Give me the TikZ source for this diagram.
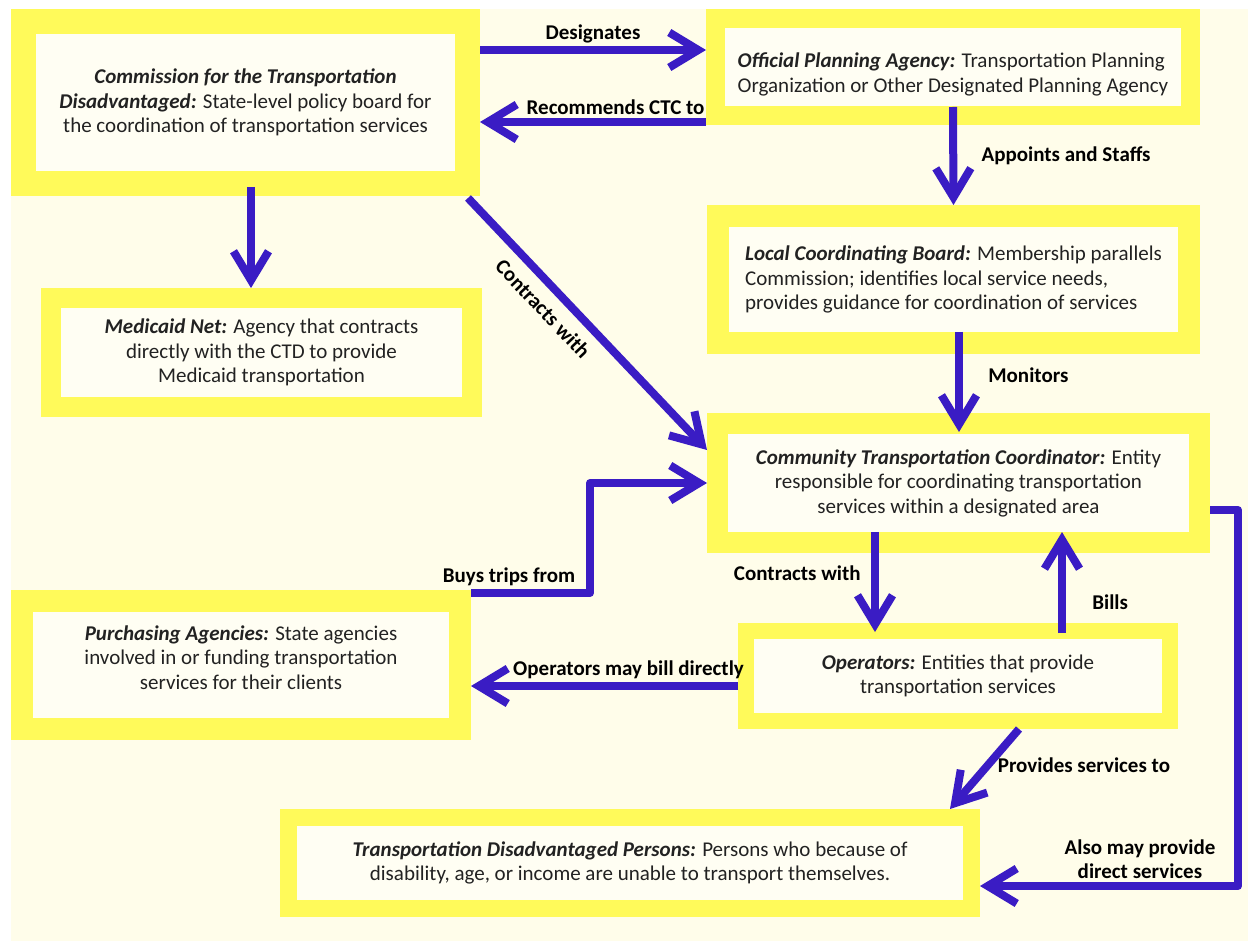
\documentclass[tikz,border=0pt]{standalone}
\usepackage{fontspec}
\setmainfont{Carlito}
\usetikzlibrary{arrows.meta}

\definecolor{frameyellow}{RGB}{255,250,90}
\definecolor{boxcream}{RGB}{255,254,243}
\definecolor{pagecream}{RGB}{255,253,234}
\definecolor{arrowblue}{RGB}{58,28,196}
\definecolor{bodygray}{RGB}{34,34,34}

\newcommand\btitle[1]{\textbf{\textit{#1}}}
\newcommand\bodysize{\fontsize{21pt}{24.5pt}\selectfont}

\tikzset{
  box/.style={draw=frameyellow, fill=boxcream, line width=#1, align=center,
    inner sep=0pt, text=bodygray, font=\bodysize},
  lbl/.style={font=\bodysize\bfseries, text=black},
  arr/.style={draw=arrowblue, line width=8pt, line join=round,
    -{Straight Barb[length=29pt,width=35pt]}},
}

\begin{document}
\begin{tikzpicture}[x=1pt,y=-1pt]
\useasboundingbox (0,0) rectangle (1248,941);
\fill[white] (0,0) rectangle (1248,941);
\fill[pagecream] (11,9) rectangle (1248,941);

% boxes
\node[box=25pt, minimum width=444pt, minimum height=162pt] (ctd) at (245.5,102.5)
  {\btitle{Commission for the Transportation}\\
   \btitle{Disadvantaged:} State-level policy board for\\
   the coordination of transportation services};
\node[box=19pt, align=left, minimum width=475pt, minimum height=97pt] (opa) at (953,67)
  {\rule{0pt}{30pt}\btitle{Official Planning Agency:} Transportation Planning\\
   Organization or Other Designated Planning Agency};
\node[box=22pt, align=left, minimum width=471pt, minimum height=127pt] (lcb) at (953.5,279.5)
  {\btitle{Local Coordinating Board:} Membership parallels\\
   Commission; identifies local service needs,\\
   provides guidance for coordination of services};
\node[box=20pt, minimum width=421pt, minimum height=109pt] (med) at (261.5,352.5)
  {\btitle{Medicaid Net:} Agency that contracts\\
   directly with the CTD to provide\\
   Medicaid transportation};
\node[box=21pt, minimum width=482pt, minimum height=119pt] (ctc) at (958.5,483)
  {\btitle{Community Transportation Coordinator:} Entity\\
   responsible for coordinating transportation\\
   services within a designated area};
\node[box=22pt, minimum width=438pt, minimum height=128pt] (pur) at (241,665)
  {\btitle{Purchasing Agencies:} State agencies\\
   involved in or funding transportation\\
   services for their clients\rule[-15pt]{0pt}{15pt}};
\node[box=16pt, minimum width=424pt, minimum height=90pt] (ops) at (958,676)
  {\btitle{Operators:} Entities that provide\\
   transportation services};
\node[box=17pt, minimum width=683pt, minimum height=91pt] (td) at (630,863)
  {\btitle{Transportation Disadvantaged Persons:} Persons who because of\\
   disability, age, or income are unable to transport themselves.};

% connectors
\draw[arr] ([yshift=52.5pt]ctd.east) -- ([yshift=17pt]opa.west)
  node[lbl, midway, above] (l-des) {Designates};
\draw[arr] ([yshift=-55pt]opa.west) -- ([yshift=-19.5pt]ctd.east)
  node[lbl, pos=0.4, above] (l-rec) {Recommends CTC to};
\draw[arr] ([yshift=18pt]opa.south) -- (lcb.north)
  node[lbl, midway, right, xshift=21pt] (l-app) {Appoints and Staffs};
\draw[arr] ([xshift=5.5pt,yshift=9pt]ctd.south) -- ([xshift=-10.5pt]med.north);
\draw[arr] ([xshift=-12pt,yshift=-2pt]ctd.south east) -- ([yshift=33pt]ctc.west)
  node[lbl, pos=0.38, below=7pt, sloped] (l-con1) {Contracts with};
\draw[arr] ([xshift=5.5pt,yshift=22pt]lcb.south) -- ([xshift=0.5pt,yshift=-19pt]ctc.north)
  node[lbl, midway, right, xshift=22pt, yshift=7pt] (l-mon) {Monitors};
\draw[arr] ([yshift=-3pt]pur.north east) -- ++(119,0)
  node[lbl, pos=0.32, above] (l-buy) {Buys trips from} |- (ctc.west);
\draw[arr] ([xshift=-83.5pt,yshift=21pt]ctc.south) -- ([xshift=-83pt,yshift=-9pt]ops.north)
  node[lbl, midway, left, xshift=-7pt, yshift=9pt] (l-con2) {Contracts with};
\draw[arr] ([xshift=104pt,yshift=-10pt]ops.north) -- ([xshift=103.5pt,yshift=21pt]ctc.south)
  node[lbl, pos=0.3, right, xshift=23pt] (l-bill) {Bills};
\draw[arr] ([yshift=-10pt]ops.west) -- ([yshift=-21pt]pur.east)
  node[lbl, pos=0.41, above] (l-obd) {Operators may bill directly};
\draw[arr] ([xshift=61pt]ops.south) -- ([xshift=-30pt]td.north east)
  node[lbl, midway, right, xshift=6pt, yshift=4pt] (l-prov) {Provides services to};
\draw[arr] ([yshift=-27pt]ctc.east) -- ++(28,0) |- ([yshift=-23pt]td.east)
  node[lbl, pos=0.69, above, align=center] (l-also) {Also may provide\\direct services};

\end{tikzpicture}
\end{document}
